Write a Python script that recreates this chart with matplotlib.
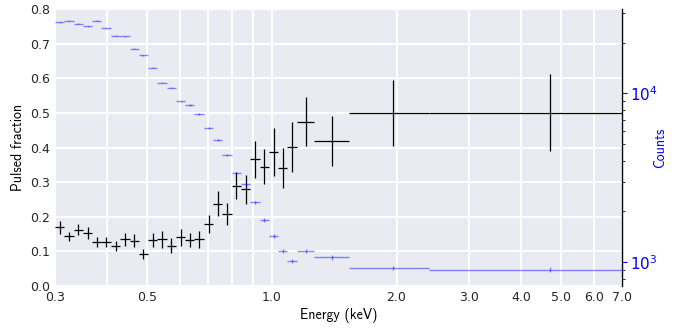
import numpy as np
import matplotlib
matplotlib.use("Agg")
import matplotlib.pyplot as plt
from matplotlib.ticker import FixedLocator, NullFormatter

# Energy bin edges (keV)
edges = [0.300, 0.316, 0.333, 0.350, 0.369, 0.388, 0.409, 0.431, 0.454, 0.478,
         0.503, 0.530, 0.558, 0.587, 0.618, 0.651, 0.686, 0.722, 0.760, 0.800,
         0.843, 0.887, 0.935, 0.984, 1.036, 1.091, 1.150, 1.265, 1.536, 2.396, 7.0]

# Pulsed fraction per bin and its 1-sigma error
pulsed_frac = [0.169, 0.144, 0.162, 0.154, 0.128, 0.128, 0.116, 0.135, 0.131, 0.092,
               0.133, 0.135, 0.117, 0.141, 0.133, 0.135, 0.179, 0.238, 0.208, 0.289,
               0.279, 0.366, 0.345, 0.388, 0.340, 0.402, 0.475, 0.419, 0.500, 0.501]
pulsed_err = [0.018, 0.013, 0.016, 0.017, 0.014, 0.014, 0.014, 0.019, 0.018, 0.014,
              0.019, 0.025, 0.022, 0.025, 0.021, 0.025, 0.025, 0.035, 0.033, 0.039,
              0.043, 0.054, 0.050, 0.069, 0.058, 0.073, 0.070, 0.073, 0.096, 0.111]

# Total counts per bin
counts = [26400, 27000, 25850, 25000, 26900, 24300, 21900, 21800, 18350, 16800,
          14200, 11600, 10800, 8960, 8530, 7550, 6250, 5300, 4320, 3390,
          2890, 2270, 1780, 1440, 1170, 1020, 1170, 1070, 925, 905]

xticks = [0.3, 0.5, 1.0, 2.0, 3.0, 4.0, 5.0, 6.0, 7.0]
xminor = [0.4, 0.6, 0.7, 0.8, 0.9]

edges = np.array(edges)
energy = 0.5 * (edges[:-1] + edges[1:])
half_width = 0.5 * (edges[1:] - edges[:-1])
counts = np.array(counts, dtype=float)

plt.style.use("seaborn-v0_8-darkgrid")
plt.rcParams["font.family"] = ["DejaVu Sans"]
plt.rcParams["mathtext.fontset"] = "cm"
plt.rcParams["mathtext.default"] = "rm"

fig, ax = plt.subplots(figsize=(6.89, 3.28), dpi=100)
fig.subplots_adjust(left=0.0798, right=0.9028, top=0.9726, bottom=0.128)

ax.errorbar(energy, pulsed_frac, xerr=half_width, yerr=pulsed_err,
            fmt="none", ecolor="k", elinewidth=0.9)
ax.set_xscale("log")
ax.set_xlim(0.3, 7.0)
ax.set_ylim(0.0, 0.8)
ax.xaxis.set_major_locator(FixedLocator(xticks))
ax.xaxis.set_minor_locator(FixedLocator(xminor))
ax.set_xticklabels(["%.1f" % t for t in xticks])
ax.xaxis.set_minor_formatter(NullFormatter())
ax.grid(True, which="both", color="white", linewidth=1.4)
ax.tick_params(labelsize=9, colors="#262626", length=0, which="both")
ax.set_xlabel("Energy (keV)", family="cmss10", fontsize=10, color="k", labelpad=3)
ax.set_ylabel("Pulsed fraction", family="cmss10", fontsize=10, color="k")
for s in ax.spines.values():
    s.set_visible(False)

# counts on a log axis sharing the energy axis
ax2 = ax.twinx()
ax2.errorbar(energy, counts, xerr=half_width, yerr=np.sqrt(counts),
             fmt="none", ecolor="b", elinewidth=1.0, alpha=0.45)
ax2.set_yscale("log")
ax2.set_ylim(724, 31600)
ax2.grid(False)
for name, s in ax2.spines.items():
    s.set_visible(name == "right")
ax2.spines["right"].set_color("k")
ax2.spines["right"].set_linewidth(1.0)
ax2.tick_params(axis="y", which="major", direction="out", length=3.5, width=0.8,
                colors="b", labelsize=11, pad=2)
ax2.tick_params(axis="y", which="minor", direction="out", length=2, width=0.6,
                color="k")
ax2.set_ylabel("Counts", family="cmss10", fontsize=10, color="b", labelpad=-3)

fig.savefig("out.png", dpi=100)
